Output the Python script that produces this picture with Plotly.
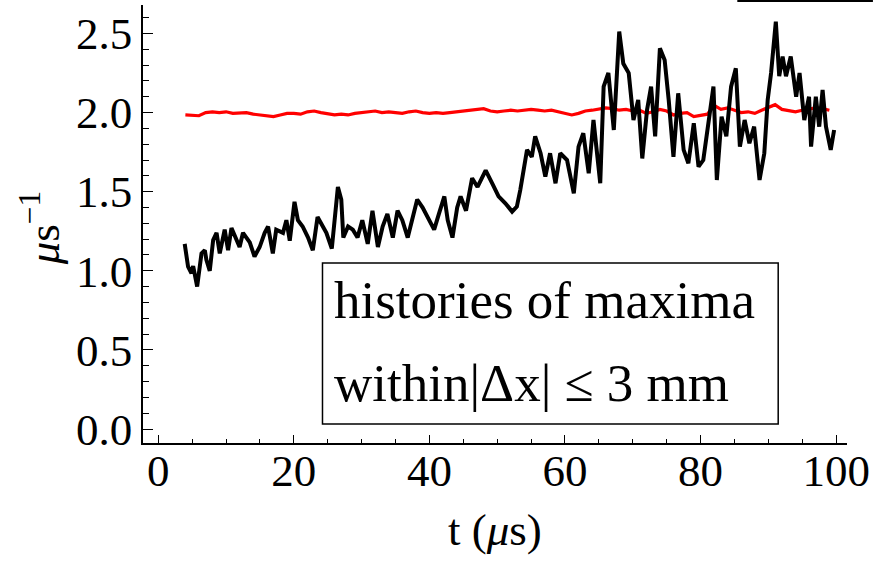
import plotly.graph_objects as go

# ---- data ----
red_t = list(range(4, 100))
red_v = [1.985, 1.98, 1.98, 2.00, 2.005, 2.00, 2.005, 1.995, 1.995, 2.00,
         1.99, 1.985, 1.975, 1.975, 1.985, 1.995, 1.995, 1.99, 2.005, 2.01,
         2.00, 1.995, 1.985, 1.99, 1.985, 1.995, 2.00, 2.005, 2.01, 2.00,
         2.005, 2.00, 1.995, 2.005, 2.01, 2.00, 1.995, 2.00, 1.995, 2.00,
         2.005, 2.01, 2.015, 2.02, 2.025, 2.01, 2.005, 2.01, 2.015, 2.01,
         2.015, 2.02, 2.015, 2.01, 2.015, 2.005, 2.00, 1.985, 1.995, 2.01,
         2.015, 2.02, 2.03, 2.025, 2.015, 2.02, 2.01, 2.015, 1.995, 2.005,
         2.02, 2.01, 1.985, 1.995, 2.00, 1.975, 1.98, 1.99, 2.045, 2.02,
         2.03, 2.015, 2.00, 2.005, 1.995, 2.015, 2.035, 2.05, 2.02, 2.01,
         2.005, 2.015, 2.025, 2.03, 2.025, 2.015]

black_t = [3.9, 4.4, 4.9, 5.15, 5.74, 6.38, 6.87, 7.1, 7.6, 8.1,
           8.6, 9.07, 9.8, 10.3, 10.8, 11.5, 12.0, 12.5, 13.5, 14.2,
           14.96, 15.7, 16.2, 16.9, 17.4, 18.4, 18.9, 19.4, 20.1, 20.6,
           21.3, 22.1, 22.8, 23.5, 24.0, 24.8, 25.6, 26.5, 27.0, 27.3,
           28.0, 28.7, 29.4, 30.1, 30.9, 31.6, 32.4, 33.1, 33.8, 34.6,
           35.3, 36.0, 36.8, 37.5, 38.2, 39.0, 40.0, 40.7, 41.4, 42.2,
           42.7, 43.4, 44.1, 44.6, 45.4, 46.3, 47.1, 48.3, 49.3, 50.2,
           51.2, 52.2, 52.9, 53.4, 54.4, 55.1, 55.6, 56.4, 57.1, 57.8,
           58.6, 59.3, 60.3, 61.3, 62.0, 62.7, 63.5, 64.2, 65.2, 65.7,
           66.4, 67.2, 68.0, 68.6, 69.4, 70.1, 70.8, 71.4, 72.1, 72.7,
           73.3, 74.0, 74.7, 75.3, 76.0, 76.7, 77.5, 78.2, 79.0, 79.7,
           80.4, 81.1, 81.9, 82.4, 83.1, 83.8, 84.5, 85.2, 85.8, 86.5,
           87.2, 87.9, 88.7, 89.4, 89.9, 90.4, 91.1, 91.6, 92.1, 92.6,
           93.3, 94.1, 94.6, 95.3, 96.0, 96.3, 97.0, 97.5, 98.0, 98.5,
           99.2, 99.7]
black_v = [1.17, 1.026, 0.984, 1.03, 0.90, 1.11, 1.13, 1.07, 1.00, 1.195,
           1.24, 1.11, 1.26, 1.13, 1.27, 1.19, 1.15, 1.24, 1.18, 1.09,
           1.15, 1.24, 1.28, 1.11, 1.26, 1.24, 1.32, 1.19, 1.436, 1.32,
           1.28, 1.21, 1.13, 1.34, 1.30, 1.24, 1.14, 1.53, 1.45, 1.21,
           1.28, 1.26, 1.21, 1.32, 1.17, 1.38, 1.15, 1.28, 1.36, 1.21,
           1.38, 1.32, 1.21, 1.34, 1.45, 1.40, 1.32, 1.26, 1.36, 1.47,
           1.32, 1.21, 1.40, 1.47, 1.38, 1.585, 1.53, 1.635, 1.55, 1.47,
           1.427, 1.374, 1.406, 1.51, 1.764, 1.72, 1.85, 1.743, 1.595, 1.743,
           1.553, 1.743, 1.70, 1.49, 1.785, 1.87, 1.616, 1.953, 1.553, 2.164,
           2.25, 1.89, 2.512, 2.31, 2.25, 1.953, 2.08, 1.71, 2.016, 2.164,
           1.85, 2.406, 2.333, 2.08, 1.72, 2.122, 1.764, 1.68, 1.932, 1.658,
           1.70, 1.911, 2.164, 1.574, 1.974, 1.85, 2.164, 2.28, 1.785, 1.953,
           1.806, 1.911, 1.574, 1.743, 2.08, 2.25, 2.575, 2.23, 2.354, 2.23,
           2.354, 2.10, 2.25, 1.953, 2.10, 1.785, 2.10, 1.911, 2.143, 1.911,
           1.764, 1.89]

x_ticks = [0, 20, 40, 60, 80, 100]
y_ticks = [0.0, 0.5, 1.0, 1.5, 2.0, 2.5]
y_tick_text = ["0.0", "0.5", "1.0", "1.5", "2.0", "2.5"]

FONT = "Liberation Serif"

fig = go.Figure()
fig.add_trace(go.Scatter(x=red_t, y=red_v, mode="lines",
                         line=dict(color="#ff0000", width=3.2), showlegend=False))
fig.add_trace(go.Scatter(x=black_t, y=black_v, mode="lines",
                         line=dict(color="#000000", width=4), showlegend=False))

fig.update_layout(
    width=875, height=566,
    margin=dict(l=143, r=26, t=5, b=123),
    paper_bgcolor="white", plot_bgcolor="white",
    font=dict(family=FONT, color="black", size=45),
    xaxis=dict(range=[-2.25, 101.6], showgrid=False, zeroline=False,
               showline=True, linecolor="black", linewidth=1.5,
               ticks="inside", ticklen=8, tickwidth=1.3, tickcolor="black",
               tickvals=x_ticks, ticktext=[str(v) for v in x_ticks],
               tickfont=dict(family=FONT, size=45), ticklabelstandoff=-13,
               minor=dict(dtick=5, ticks="inside", ticklen=4, tickwidth=1.2, tickcolor="black"),
               fixedrange=True),
    yaxis=dict(range=[-0.0885, 2.680], showgrid=False, zeroline=False,
               showline=True, linecolor="black", linewidth=1.5,
               ticks="inside", ticklen=10, tickwidth=1.3, tickcolor="black",
               tickvals=y_ticks, ticktext=y_tick_text,
               tickfont=dict(family=FONT, size=45),
               minor=dict(dtick=0.1, ticks="inside", ticklen=6, tickwidth=1.2, tickcolor="black"),
               fixedrange=True),
)

# axis titles
fig.add_annotation(text="t (<i>μ</i>s)", xref="paper", yref="paper",
                   x=0.5, y=(443 - 530) / 438, showarrow=False,
                   font=dict(family=FONT, size=45), xanchor="center", yanchor="middle")
fig.add_annotation(text="<i>μ</i>s<sup>−1</sup>", xref="paper", yref="paper",
                   x=(40 - 143) / 706, y=(443 - 228) / 438, showarrow=False, textangle=-90,
                   font=dict(family=FONT, size=45), xanchor="center", yanchor="middle")

# inset label box
fig.add_shape(type="rect", xref="paper", yref="paper",
              x0=(323 - 143) / 706, x1=(780 - 143) / 706,
              y0=(443 - 424) / 438, y1=(443 - 263) / 438,
              line=dict(color="black", width=1.5), fillcolor="white", layer="above")
fig.add_annotation(text="histories of maxima", xref="paper", yref="paper",
                   x=(333 - 143) / 706, y=(443 - 300) / 438, showarrow=False,
                   font=dict(family=FONT, size=53), xanchor="left", yanchor="middle")
fig.add_annotation(text="within|Δx| ≤ 3 mm", xref="paper", yref="paper",
                   x=(333 - 143) / 706, y=(443 - 383) / 438, showarrow=False,
                   font=dict(family=FONT, size=53), xanchor="left", yanchor="middle")

# remnant of a frame at the top edge
fig.add_shape(type="line", xref="paper", yref="paper",
              x0=(739 - 143) / 706, x1=(875 - 143) / 706,
              y0=(443 - 1) / 438, y1=(443 - 1) / 438,
              line=dict(color="black", width=2))

fig.write_html("out.html")
